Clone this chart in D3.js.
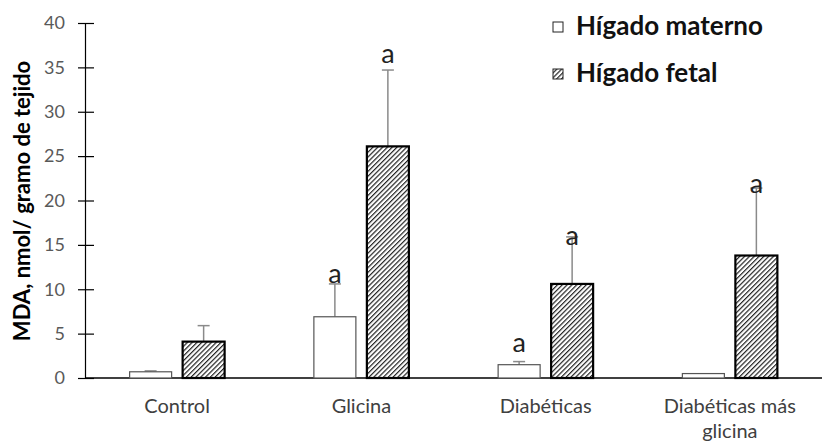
<!DOCTYPE html>
<html>
<head>
<meta charset="utf-8">
<script src="https://cdn.jsdelivr.net/npm/d3@7"></script>
<style>
  body { margin: 0; background: #fff; }
  svg { font-family: Lato, "Open Sans", sans-serif; }
</style>
</head>
<body>
<svg id="chart" width="827" height="445"></svg>
<script>
// data
const categories = ["Control", "Glicina", "Diabéticas", "Diabéticas más glicina"];
const seriesNames = ["Hígado materno", "Hígado fetal"];
const materno = [0.7, 6.9, 1.5, 0.5];
const maternoErr = [0.1, 3.7, 0.35, 0];
const fetal = [4.1, 26.1, 10.6, 13.8];
const fetalErr = [1.8, 8.6, 5.3, 7.6];
const maternoMark = ["", "a", "a", ""];
const fetalMark = ["", "a", "a", "a"];
// height (in MDA units) where each letter sits
const maternoMarkAt = [0, 10.7, 2.9, 0];
const fetalMarkAt = [0, 35.5, 15.0, 20.8];
const yTicks = [0, 5, 10, 15, 20, 25, 30, 35, 40];

const svg = d3.select("#chart");

// hatch for fetal bars
const defs = svg.append("defs");
defs.append("pattern")
  .attr("id", "hatch")
  .attr("patternUnits", "userSpaceOnUse")
  .attr("width", 3.4).attr("height", 3.4)
  .attr("patternTransform", "rotate(45)")
  .append("rect")
  .attr("x", 0).attr("y", 0)
  .attr("width", 1.2).attr("height", 3.4)
  .attr("fill", "#222");

const margin = { left: 85, right: 5, top: 23, bottom: 67 };
const W = 827, H = 445;

const x = d3.scaleBand()
  .domain(categories)
  .range([margin.left, W - margin.right]);

const y = d3.scaleLinear()
  .domain([0, 40])
  .range([H - margin.bottom, margin.top]);

const barW = 42, gap = 11;

// y axis
const yAxis = svg.append("g")
  .attr("transform", `translate(${margin.left},0)`)
  .call(d3.axisLeft(y).tickValues(yTicks).tickSize(7).tickPadding(13));
yAxis.select(".domain").attr("stroke", "#000").attr("stroke-width", 1.2);
yAxis.selectAll(".tick line")
  .attr("x1", -7).attr("x2", 9)
  .attr("stroke", "#000").attr("stroke-width", 1.2);
yAxis.selectAll(".tick text")
  .attr("fill", "#595959")
  .attr("font-size", 18)
  .attr("font-family", "Lato, sans-serif");

// x baseline
svg.append("line")
  .attr("x1", margin.left).attr("x2", W - margin.right)
  .attr("y1", y(0)).attr("y2", y(0))
  .attr("stroke", "#000").attr("stroke-width", 1.3);

// category labels
categories.forEach(c => {
  const cx = x(c) + x.bandwidth() / 2;
  const words = c === "Diabéticas más glicina" ? ["Diabéticas más", "glicina"] : [c];
  words.forEach((w, i) => {
    svg.append("text")
      .attr("x", cx).attr("y", 413 + i * 25)
      .attr("text-anchor", "middle")
      .attr("font-size", 20)
      .attr("fill", "#404040")
      .text(w);
  });
});

const series = [
  { vals: materno, err: maternoErr, marks: maternoMark, markAt: maternoMarkAt, off: -gap / 2 - barW, fill: "#fff", stroke: "#555", sw: 1.2 },
  { vals: fetal, err: fetalErr, marks: fetalMark, markAt: fetalMarkAt, off: gap / 2, fill: "url(#hatch)", stroke: "#000", sw: 2.2 }
];

series.forEach(s => {
  const g = svg.append("g");
  const data = categories.map((c, i) => ({ c, v: s.vals[i], e: s.err[i], m: s.marks[i], at: s.markAt[i] }));
  const cx = d => x(d.c) + x.bandwidth() / 2 + s.off + barW / 2;

  // error bars
  const eb = g.selectAll(".err").data(data.filter(d => d.e > 0)).join("g");
  eb.append("line")
    .attr("x1", cx).attr("x2", cx)
    .attr("y1", d => y(d.v)).attr("y2", d => y(d.v + d.e))
    .attr("stroke", "#8a8a8a").attr("stroke-width", 1.5);
  eb.append("line")
    .attr("x1", d => cx(d) - 6).attr("x2", d => cx(d) + 6)
    .attr("y1", d => y(d.v + d.e)).attr("y2", d => y(d.v + d.e))
    .attr("stroke", "#8a8a8a").attr("stroke-width", 1.5);

  g.selectAll("rect").data(data).join("rect")
    .attr("x", d => x(d.c) + x.bandwidth() / 2 + s.off)
    .attr("y", d => y(d.v))
    .attr("width", barW)
    .attr("height", d => y(0) - y(d.v))
    .attr("fill", s.fill)
    .attr("stroke", s.stroke)
    .attr("stroke-width", s.sw);

  // significance letters
  g.selectAll(".mark").data(data.filter(d => d.m)).join("text")
    .attr("x", cx)
    .attr("y", d => y(d.at))
    .attr("text-anchor", "middle")
    .attr("font-size", 27)
    .attr("fill", "#222")
    .text(d => d.m);
});

// y title
svg.append("text")
  .attr("transform", "translate(30,201) rotate(-90)")
  .attr("text-anchor", "middle")
  .attr("font-size", 22)
  .attr("font-weight", "bold")
  .attr("fill", "#000")
  .text("MDA, nmol/ gramo de tejido");

// legend
const leg = svg.append("g");
seriesNames.forEach((n, i) => {
  const ly = 35 + i * 47;
  leg.append("rect")
    .attr("x", 553).attr("y", ly - 13)
    .attr("width", 10).attr("height", 10)
    .attr("fill", i === 0 ? "#fff" : "url(#hatch)")
    .attr("stroke", "#222").attr("stroke-width", 1);
  leg.append("text")
    .attr("x", 576).attr("y", ly)
    .attr("font-size", 26)
    .attr("font-weight", "bold")
    .attr("fill", "#111")
    .text(n);
});
</script>
</body>
</html>
